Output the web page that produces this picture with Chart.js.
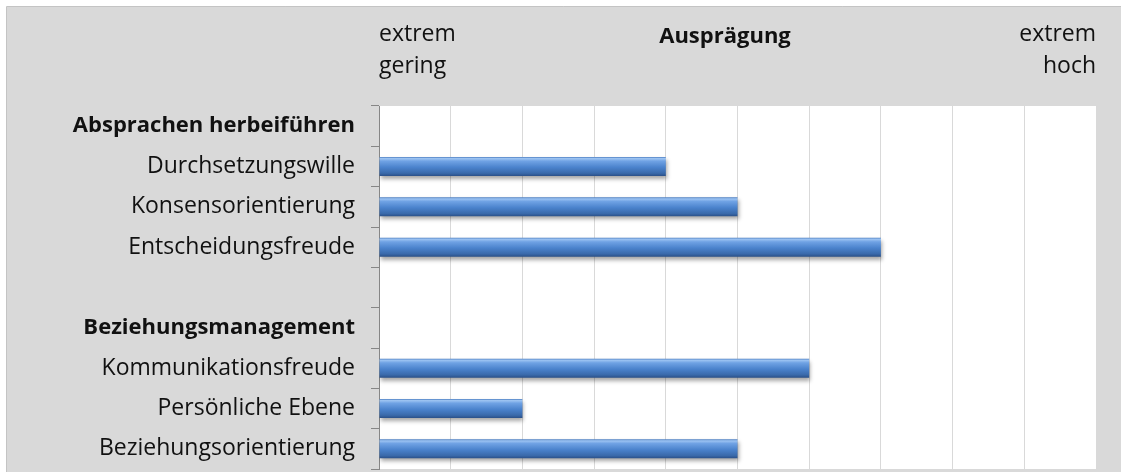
<!DOCTYPE html>
<html>
<head>
<meta charset="utf-8">
<script src="https://cdn.jsdelivr.net/npm/chart.js@4/dist/chart.umd.min.js"></script>
<style>
html,body{margin:0;padding:0;background:#fff;}
#wrap{width:1121px;height:472px;position:relative;}
</style>
</head>
<body>
<div id="wrap"><canvas id="c" width="1121" height="472"></canvas></div>
<script>
const categories = [
  'Absprachen herbeiführen',
  'Durchsetzungswille',
  'Konsensorientierung',
  'Entscheidungsfreude',
  '',
  'Beziehungsmanagement',
  'Kommunikationsfreude',
  'Persönliche Ebene',
  'Beziehungsorientierung'
];
const values = [null, 4, 5, 7, null, null, 6, 2, 5];
const headingRows = [0, 5];
const scaleMin = 0;
const scaleMax = 10;
const lowLabel = ['extrem', 'gering'];
const highLabel = ['extrem', 'hoch'];
const axisTitle = 'Ausprägung';

const FONT = 'Open Sans';
const FSIZE = 23;
const BSIZE = 22;

const bgPlugin = {
  id: 'bg',
  beforeDraw(chart) {
    const c = chart.ctx, a = chart.chartArea;
    c.save();
    c.fillStyle = '#ffffff';
    c.fillRect(0, 0, chart.width, chart.height);
    c.fillStyle = '#d9d9d9';
    c.fillRect(7, 6, chart.width - 7, chart.height - 6);
    c.strokeStyle = '#c4c4c4';
    c.lineWidth = 1;
    c.beginPath();
    c.moveTo(6.5, chart.height);
    c.lineTo(6.5, 6.5);
    c.lineTo(chart.width, 6.5);
    c.stroke();
    c.fillStyle = '#ffffff';
    c.fillRect(a.left, a.top, a.right - a.left, a.bottom - a.top);
    c.restore();
  },
  beforeDatasetsDraw(chart) {
    const c = chart.ctx;
    c.save();
    c.shadowColor = 'rgba(0,0,0,0.35)';
    c.shadowBlur = 4;
    c.shadowOffsetX = 1;
    c.shadowOffsetY = 3;
  },
  afterDatasetsDraw(chart) {
    chart.ctx.restore();
  },
  afterDraw(chart) {
    const c = chart.ctx;
    c.save();
    c.fillStyle = '#111111';
    c.font = 'bold ' + BSIZE + 'px "' + FONT + '"';
    c.textAlign = 'center';
    c.textBaseline = 'alphabetic';
    c.fillText(axisTitle, 725, 43);
    c.restore();
  }
};

function barFill(ctx) {
  const chart = ctx.chart;
  const ys = chart.scales && chart.scales.y;
  if (!chart.chartArea || !ys) return '#4f81bd';
  const step = ys.getPixelForValue(1) - ys.getPixelForValue(0);
  const cy = ys.getPixelForValue(ctx.dataIndex);
  const half = Math.abs(step) * 0.47 / 2;
  const g = chart.ctx.createLinearGradient(0, cy - half, 0, cy + half);
  g.addColorStop(0, '#4d7fc2');
  g.addColorStop(0.08, '#9cc3f2');
  g.addColorStop(0.22, '#6fa2e4');
  g.addColorStop(0.55, '#4a82cc');
  g.addColorStop(0.85, '#3a6aab');
  g.addColorStop(1, '#2a5088');
  return g;
}

new Chart(document.getElementById('c'), {
  type: 'bar',
  data: {
    labels: categories,
    datasets: [{
      data: values,
      backgroundColor: barFill,
      borderWidth: 0,
      categoryPercentage: 1,
      barPercentage: 0.47
    }]
  },
  plugins: [bgPlugin],
  options: {
    indexAxis: 'y',
    responsive: false,
    animation: false,
    devicePixelRatio: 1,
    layout: { padding: { left: 7, right: 25, top: 6, bottom: 3 } },
    plugins: { legend: { display: false }, tooltip: { enabled: false }, title: { display: false } },
    scales: {
      x: {
        position: 'top',
        min: scaleMin,
        max: scaleMax,
        afterFit(s) { s.height = 100; s.paddingLeft = 0; s.paddingRight = 0; },
        border: { display: false },
        grid: { color: '#d9d9d9', drawTicks: false, lineWidth: 1 },
        ticks: {
          stepSize: 1,
          autoSkip: false,
          maxRotation: 0,
          align: 'inner',
          padding: 23,
          color: '#111111',
          font: { family: FONT, size: FSIZE, lineHeight: 1.4 },
          callback(v) { return v === scaleMin ? lowLabel : (v === scaleMax ? highLabel : ''); }
        }
      },
      y: {
        afterFit(s) { s.width = 372; s.paddingTop = 0; s.paddingBottom = 0; },
        border: { color: '#868686', width: 1 },
        grid: { drawOnChartArea: false, color: '#868686', tickLength: 8, offset: true },
        ticks: {
          padding: 16,
          autoSkip: false,
          color: '#111111',
          font(c) {
            const h = headingRows.includes(c.index);
            return { family: FONT, size: h ? BSIZE : FSIZE, weight: h ? 'bold' : 'normal' };
          }
        }
      }
    }
  }
});
</script>
</body>
</html>
